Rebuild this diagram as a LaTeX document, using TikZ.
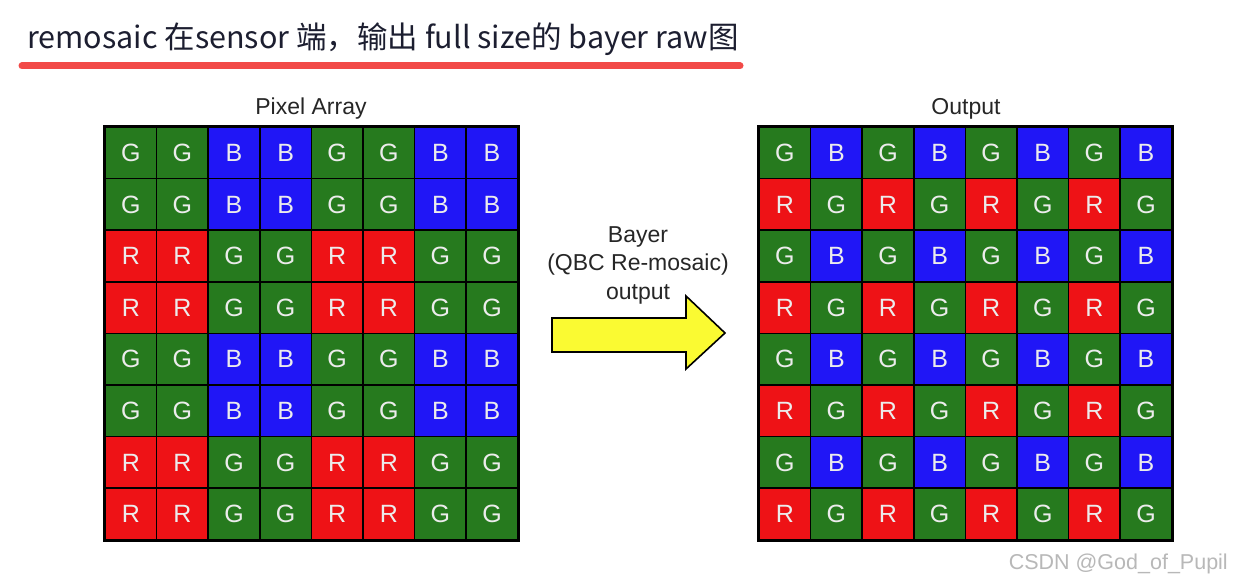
\documentclass[tikz,border=0pt]{standalone}
\usepackage{fontspec}
\setmainfont{Liberation Sans}
\newfontfamily\cjk{Noto Sans CJK SC}
\usepackage{tikz}
\usetikzlibrary{positioning}
\definecolor{pxG}{RGB}{38,122,30}
\definecolor{pxB}{RGB}{32,22,246}
\definecolor{pxR}{RGB}{238,18,22}
\definecolor{pxLetter}{RGB}{236,236,236}
\definecolor{markRed}{RGB}{242,74,72}
\definecolor{titleInk}{RGB}{28,30,48}
\definecolor{arrowYellow}{RGB}{250,250,50}
\tikzset{
  cell/.style={draw=black, line width=1.6pt, minimum size=51.6pt, inner sep=0pt,
    text=pxLetter, font=\fontsize{25}{25}\selectfont},
  cellG/.style={cell, fill=pxG},
  cellB/.style={cell, fill=pxB},
  cellR/.style={cell, fill=pxR},
  caption/.style={text=black!85, font=\fontsize{23}{25}\selectfont, inner sep=0pt},
  frame/.style={draw=black, line width=2.2pt}
}
\begin{document}
\begin{tikzpicture}[x=1pt,y=-1pt]
	\useasboundingbox[fill=white] (0,0) rectangle (1233,583);
	% heading
	\node[anchor=base west, inner sep=0pt, text=titleInk, font=\cjk\fontsize{30.5}{32}\selectfont] (title) at (27,49)
		{remosaic 在sensor 端，输出 full size的 bayer raw图};
	\draw[markRed, line width=7pt, line cap=round] (22,66) -- (740,66);
	% left: pixel array
	\node[caption] (pixcap) at (311,109) {Pixel Array};
	\foreach \row [count=\r from 0] in {{G,G,B,B,G,G,B,B},{G,G,B,B,G,G,B,B},{R,R,G,G,R,R,G,G},{R,R,G,G,R,R,G,G},
		{G,G,B,B,G,G,B,B},{G,G,B,B,G,G,B,B},{R,R,G,G,R,R,G,G},{R,R,G,G,R,R,G,G}}
		\foreach \ch [count=\c from 0] in \row
			\node[cell\ch] (L-\r-\c) at (105+25.8+\c*51.6, 127+25.8+\r*51.6) {\ch};
	\draw[frame] (L-0-0.north west) rectangle (L-7-7.south east);
	% right: output
	\node[caption] (outcap) at (966,109) {Output};
	\foreach \row [count=\r from 0] in {{G,B,G,B,G,B,G,B},{R,G,R,G,R,G,R,G},{G,B,G,B,G,B,G,B},{R,G,R,G,R,G,R,G},
		{G,B,G,B,G,B,G,B},{R,G,R,G,R,G,R,G},{G,B,G,B,G,B,G,B},{R,G,R,G,R,G,R,G}}
		\foreach \ch [count=\c from 0] in \row
			\node[cell\ch] (R-\r-\c) at (759+25.8+\c*51.6, 127+25.8+\r*51.6) {\ch};
	\draw[frame] (R-0-0.north west) rectangle (R-7-7.south east);
	% arrow in between
	\node[caption, align=center, font=\fontsize{23}{28.5}\selectfont] (remosaic) at (638,265)
		{Bayer\\(QBC Re-mosaic)\\output};
	\draw[fill=arrowYellow, draw=black, line width=1.6pt, line join=miter]
		(552,318) -- (686,318) -- (686,296) -- (725,333) -- (686,369) -- (686,352) -- (552,352) -- cycle;
	% watermark
	\node[anchor=east, text=black!28, font=\fontsize{21.5}{22}\selectfont, inner sep=0pt] (mark) at (1228,564)
		{CSDN @God\_of\_Pupil};
\end{tikzpicture}
\end{document}
